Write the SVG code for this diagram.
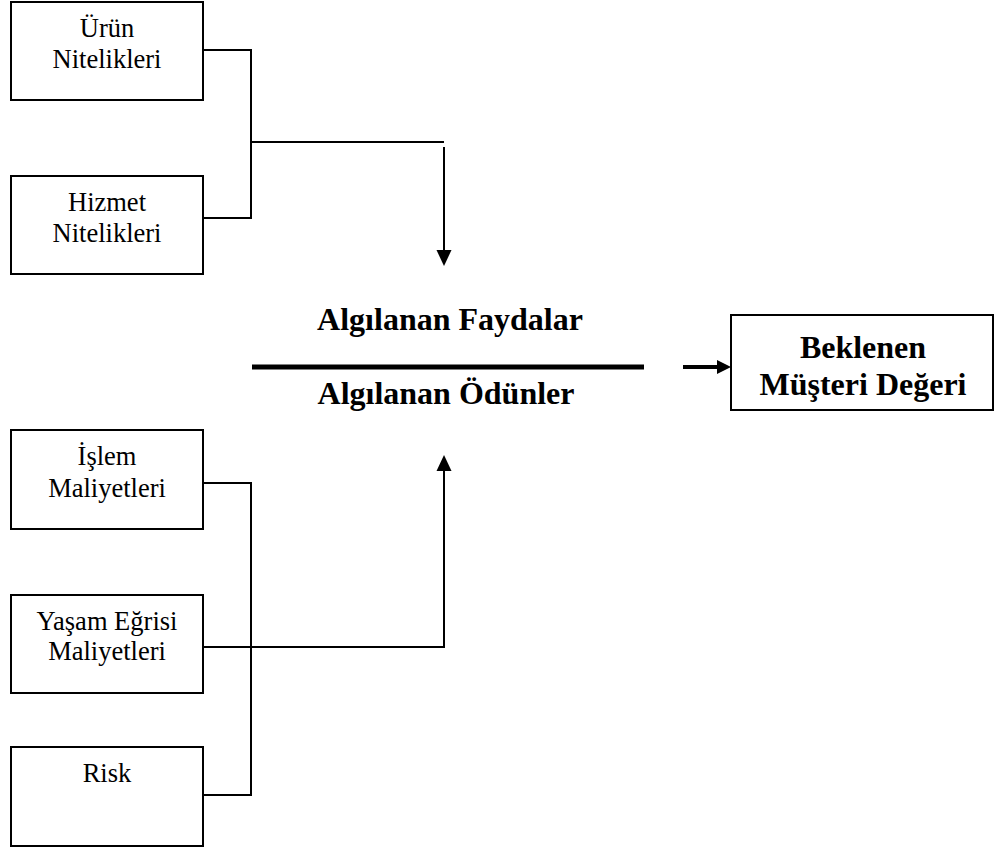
<svg xmlns="http://www.w3.org/2000/svg" width="1000" height="850" viewBox="0 0 1000 850">
  <style>
    .box { fill: #fff; stroke: #000; stroke-width: 2; }
    .lbl { font-family: "Liberation Serif", "Times New Roman", serif; font-size: 26.5px; text-anchor: middle; fill: #000; }
    .big { font-family: "Liberation Serif", "Times New Roman", serif; font-size: 32px; font-weight: bold; text-anchor: middle; fill: #000; }
    .wire { fill: none; stroke: #000; stroke-width: 2; }
    .head { fill: #000; stroke: none; }
  </style>
  <rect width="1000" height="850" fill="#fff"/>

  <!-- benefit sources -->
  <g id="urun">
    <rect class="box" x="11" y="2" width="192" height="98"/>
    <text class="lbl" x="107" y="37">Ürün</text>
    <text class="lbl" x="107" y="68">Nitelikleri</text>
  </g>
  <g id="hizmet">
    <rect class="box" x="11" y="176" width="192" height="98"/>
    <text class="lbl" x="107" y="211">Hizmet</text>
    <text class="lbl" x="107" y="242">Nitelikleri</text>
  </g>

  <!-- value ratio -->
  <g id="oran">
    <text class="big" x="450" y="330">Algılanan Faydalar</text>
    <line x1="252" y1="367" x2="644" y2="367" stroke="#000" stroke-width="5"/>
    <text class="big" x="446" y="404">Algılanan Ödünler</text>
  </g>

  <!-- result -->
  <g id="deger">
    <rect class="box" x="731" y="315" width="262" height="95"/>
    <text class="big" x="863" y="358">Beklenen</text>
    <text class="big" x="863" y="395">Müşteri Değeri</text>
  </g>

  <!-- cost sources -->
  <g id="islem">
    <rect class="box" x="11" y="430" width="192" height="99"/>
    <text class="lbl" x="107" y="465">İşlem</text>
    <text class="lbl" x="107" y="497">Maliyetleri</text>
  </g>
  <g id="yasam">
    <rect class="box" x="11" y="595" width="192" height="98"/>
    <text class="lbl" x="107" y="630">Yaşam Eğrisi</text>
    <text class="lbl" x="107" y="660">Maliyetleri</text>
  </g>
  <g id="risk">
    <rect class="box" x="11" y="747" width="192" height="99"/>
    <text class="lbl" x="107" y="782">Risk</text>
  </g>

  <!-- connectors -->
  <g id="connectors">
    <path class="wire" d="M203 50 H251 V218 H203"/>
    <path class="wire" d="M251 142 H444"/>
    <path class="wire" d="M444 147 V252"/>
    <polygon class="head" points="436.5,250 451.5,250 444,266"/>

    <path class="wire" d="M203 483 H251 V795 H203"/>
    <path class="wire" d="M203 647 H444 V468"/>
    <polygon class="head" points="436.5,471 451.5,471 444,455"/>

    <line x1="683" y1="367" x2="719" y2="367" stroke="#000" stroke-width="4"/>
    <polygon class="head" points="717,360 731,367 717,374"/>
  </g>
</svg>
